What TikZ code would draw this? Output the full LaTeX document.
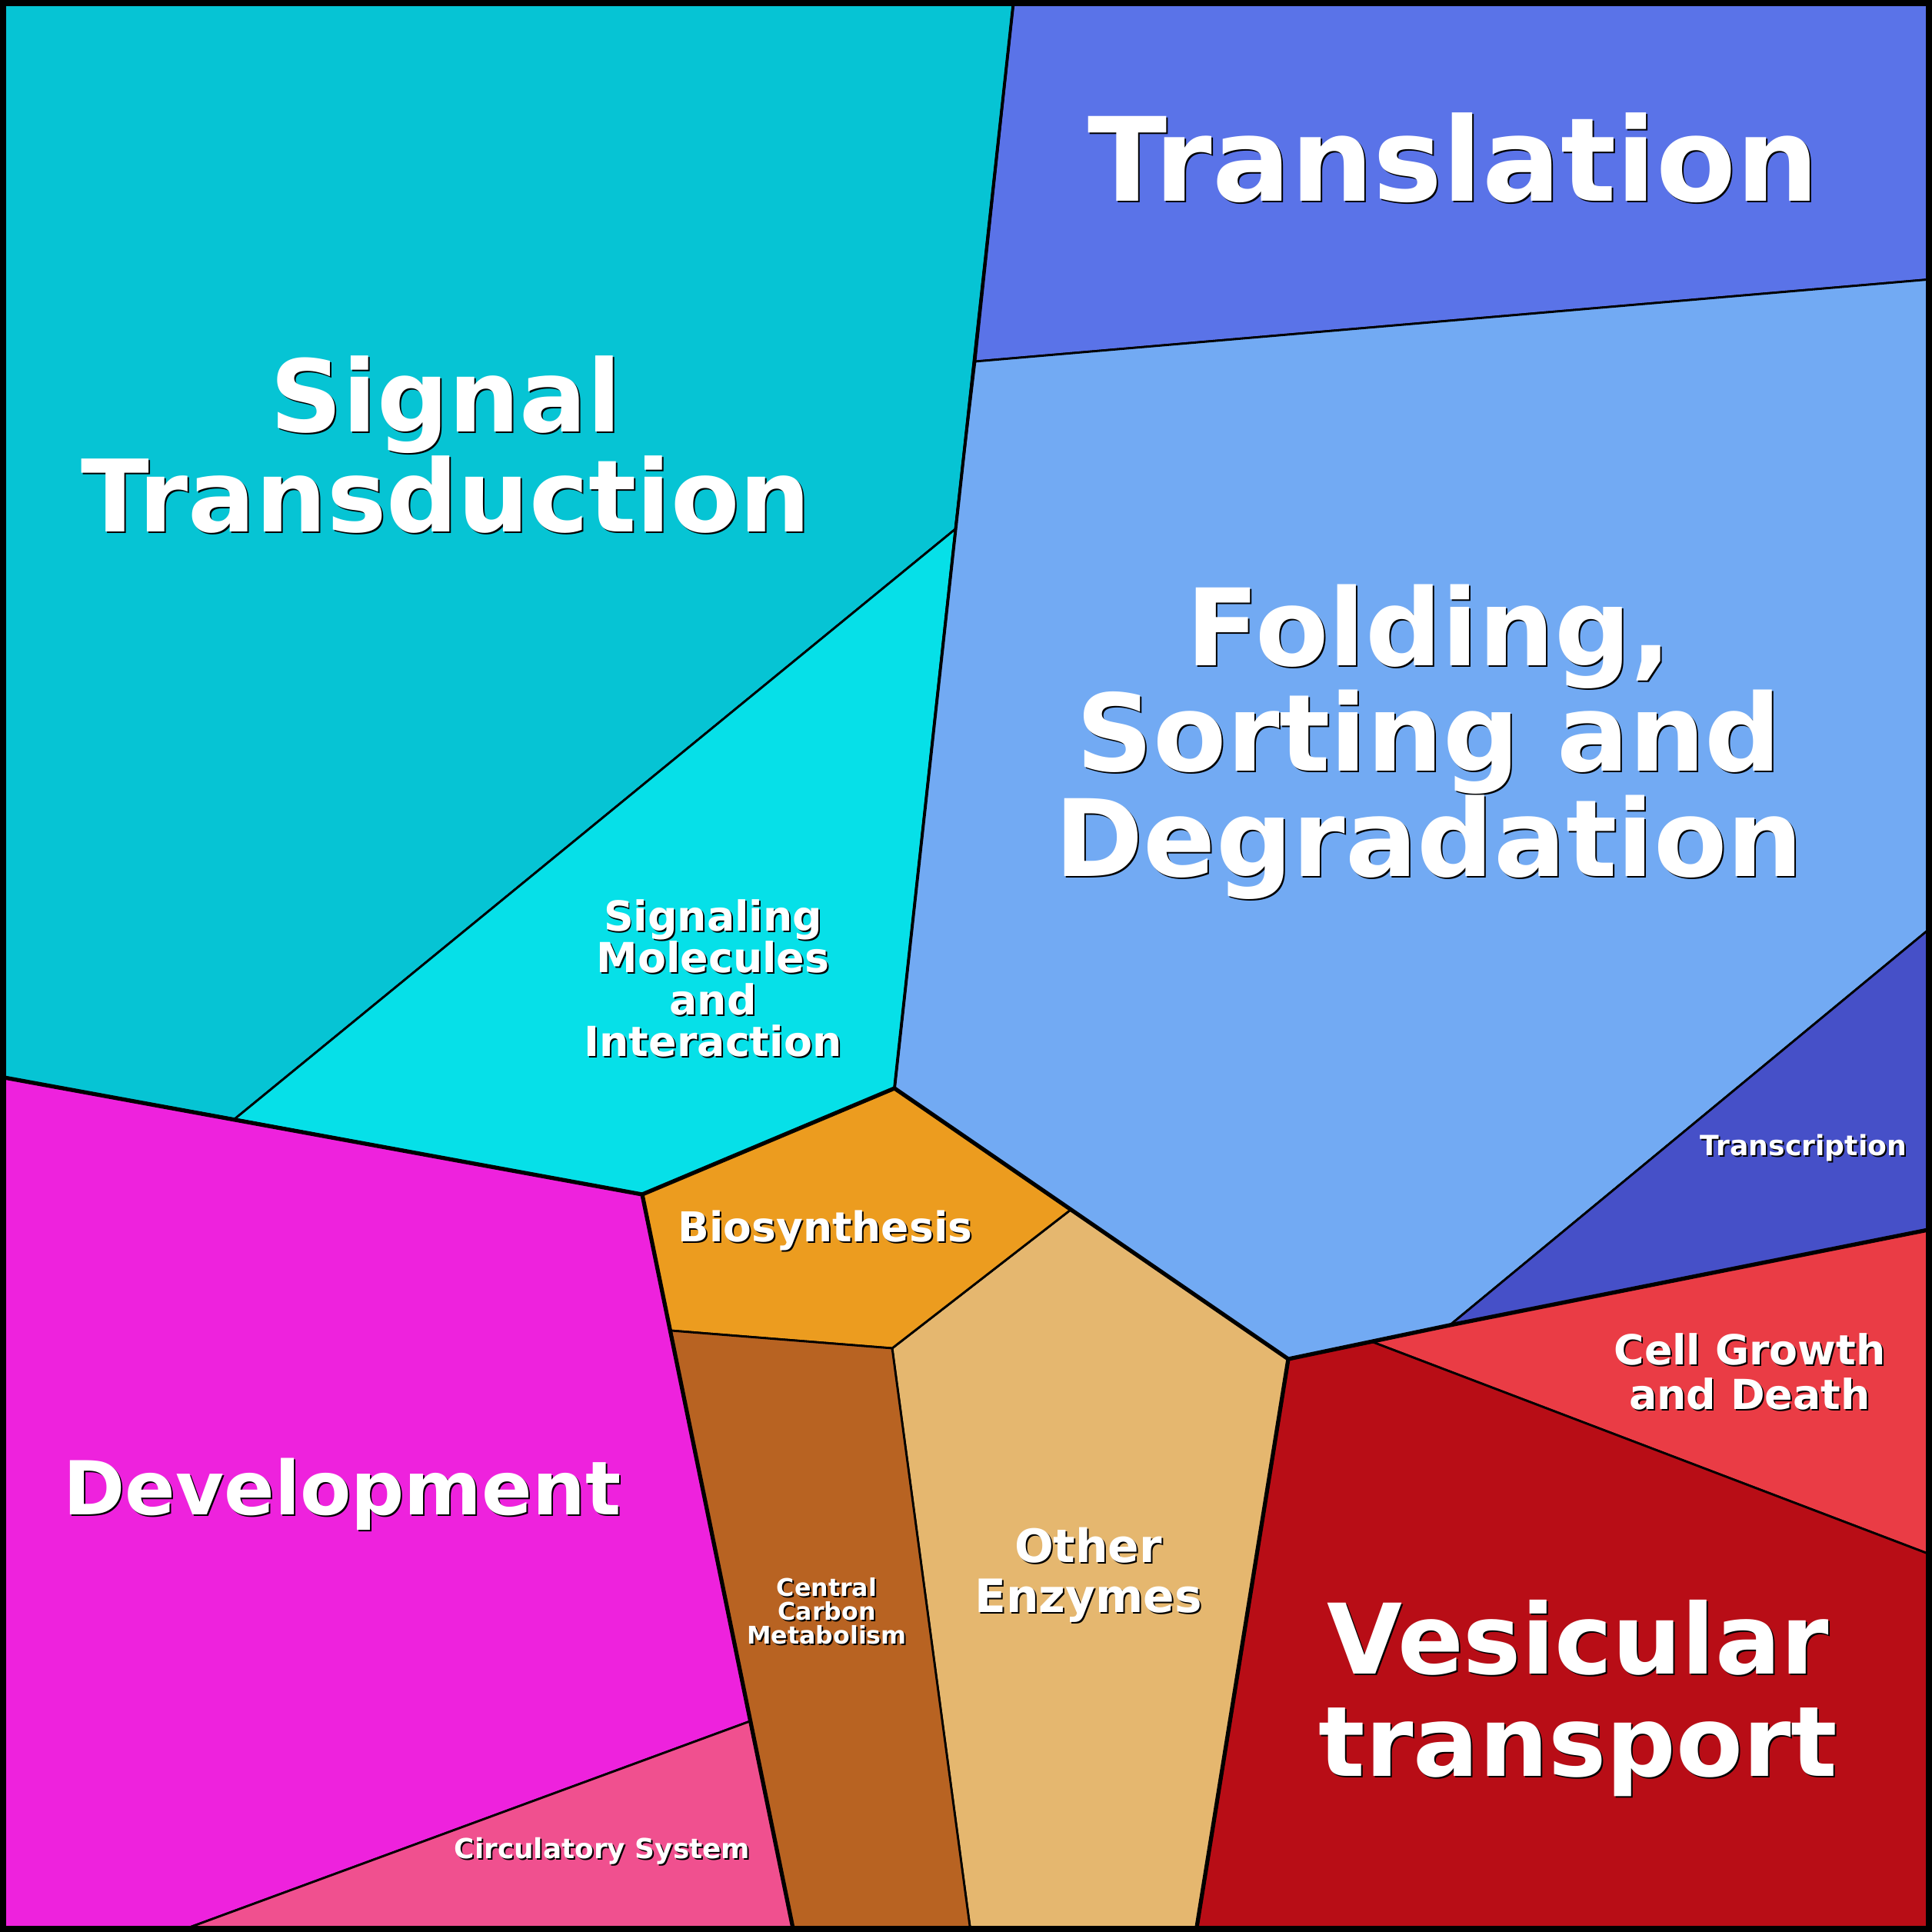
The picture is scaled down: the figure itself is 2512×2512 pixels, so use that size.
\documentclass[tikz,border=0pt]{standalone}
\usepackage{fontspec}
\setmainfont{DejaVu Sans}
\usetikzlibrary{positioning}
\definecolor{sigtrans}{HTML}{06C4D4}
\definecolor{transl}{HTML}{5A73E8}
\definecolor{folding}{HTML}{72AAF3}
\definecolor{sigmol}{HTML}{06E0E8}
\definecolor{transcr}{HTML}{4650C8}
\definecolor{cellgrowth}{HTML}{EA3C45}
\definecolor{vesic}{HTML}{B80D16}
\definecolor{otherenz}{HTML}{E5B76F}
\definecolor{biosyn}{HTML}{EC9C1F}
\definecolor{carbon}{HTML}{B86322}
\definecolor{develop}{HTML}{EE22DD}
\definecolor{circul}{HTML}{F0508F}
\newcommand{\celllabel}[4]{%
  \node[lbl, black, font=\bfseries\fontsize{#2}{#3}\selectfont] at ([shift={(2,2)}]#1) {#4};
  \node[lbl, white, font=\bfseries\fontsize{#2}{#3}\selectfont] at (#1) {#4};}
\begin{document}
\begin{tikzpicture}[x=0.01cm, y=-0.01cm]
  \tikzset{cell/.style = {draw=black, line width=0.8pt, line join=round},
           thick edge/.style = {line width=1.5pt, line join=round},
           lbl/.style = {align=center, inner sep=0pt}}
  \useasboundingbox (0,0) rectangle (2512,2512);

  % cells
  \filldraw[cell, fill=sigtrans] (0,0) -- (1318,0) -- (1242,688) -- (305,1455) -- (0,1400) -- cycle;
  \filldraw[cell, fill=transl] (1318,0) -- (2512,0) -- (2512,363) -- (1268,470) -- cycle;
  \filldraw[cell, fill=folding] (1268,470) -- (2512,363) -- (2512,1205) -- (1885,1723) -- (1675,1767) -- (1163,1415) -- (1242,688) -- cycle;
  \filldraw[cell, fill=sigmol] (1242,688) -- (1163,1415) -- (835,1553) -- (305,1455) -- cycle;
  \filldraw[cell, fill=transcr] (2512,1205) -- (2512,1598) -- (1885,1723) -- cycle;
  \filldraw[cell, fill=cellgrowth] (2512,1598) -- (2512,2022) -- (1785,1745) -- (1885,1723) -- cycle;
  \filldraw[cell, fill=vesic] (1675,1767) -- (1785,1745) -- (2512,2022) -- (2512,2512) -- (1555,2512) -- cycle;
  \filldraw[cell, fill=otherenz] (1392,1573) -- (1675,1767) -- (1555,2512) -- (1262,2512) -- (1160,1753) -- cycle;
  \filldraw[cell, fill=biosyn] (835,1553) -- (1163,1415) -- (1392,1573) -- (1160,1753) -- (872,1730) -- cycle;
  \filldraw[cell, fill=carbon] (872,1730) -- (1160,1753) -- (1262,2512) -- (1032,2512) -- (975,2238) -- cycle;
  \filldraw[cell, fill=develop] (0,1400) -- (305,1455) -- (835,1553) -- (975,2238) -- (230,2512) -- (0,2512) -- cycle;
  \filldraw[cell, fill=circul] (975,2238) -- (1032,2512) -- (230,2512) -- cycle;

  % group borders
  \draw[thick edge] (0,1400) -- (835,1553) -- (1163,1415) -- (1675,1767) -- (1885,1723) -- (2512,1598);
  \draw[thick edge] (835,1553) -- (1032,2512);
  \draw[thick edge] (1675,1767) -- (1555,2512);
  \draw[line width=1.1pt] (1318,0) -- (1163,1415);
  \draw[line width=4.6pt] (0,0) rectangle (2512,2512);

  % labels
  \coordinate (sigtransL) at (580,578);
  \coordinate (translL) at (1890,205);
  \coordinate (foldingL) at (1858,965);
  \coordinate (sigmolL) at (927,1272);
  \coordinate (transcrL) at (2345,1492);
  \coordinate (growthL) at (2275,1783);
  \coordinate (vesicL) at (2052,2208);
  \coordinate (otherL) at (1415,2048);
  \coordinate (biosynL) at (1073,1600);
  \coordinate (carbonL) at (1075,2095);
  \coordinate (developL) at (445,1943);
  \coordinate (circulL) at (783,2407);
  \celllabel{sigtransL}{37pt}{36pt}{Signal\\Transduction}
  \celllabel{translL}{43pt}{48pt}{Translation}
  \celllabel{foldingL}{39.5pt}{39pt}{Folding,\\Sorting and\\Degradation}
  \celllabel{sigmolL}{15.3pt}{15.4pt}{Signaling\\Molecules\\and\\Interaction}
  \celllabel{transcrL}{10.3pt}{12pt}{Transcription}
  \celllabel{growthL}{15.3pt}{16.5pt}{Cell Growth\\and Death}
  \celllabel{vesicL}{36pt}{38pt}{Vesicular\\transport}
  \celllabel{otherL}{17pt}{18.5pt}{Other\\Enzymes}
  \celllabel{biosynL}{15.2pt}{17pt}{Biosynthesis}
  \celllabel{carbonL}{9pt}{8.8pt}{Central\\Carbon\\Metabolism}
  \celllabel{developL}{27.5pt}{32pt}{Development}
  \celllabel{circulL}{10.2pt}{12pt}{Circulatory System}
\end{tikzpicture}
\end{document}
